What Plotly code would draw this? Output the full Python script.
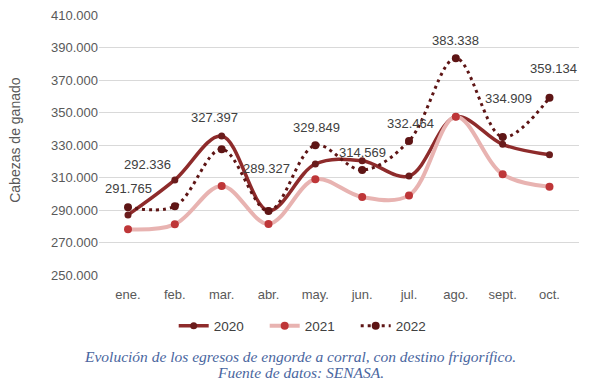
import plotly.graph_objects as go

months = ["ene.", "feb.", "mar.", "abr.", "may.", "jun.", "jul.", "ago.", "sept.", "oct."]
v2020 = [287000, 308500, 335500, 289600, 318300, 320300, 310900, 347400, 330400, 324000]
v2021 = [278100, 281200, 304800, 281400, 308900, 298000, 299000, 347400, 312000, 304300]
v2022 = [291765, 292336, 327397, 289327, 329849, 314569, 332464, 383338, 334909, 359134]

# label offsets (pixels) for the 2022 data labels
label_dx = [0, -27, -7, -2, 1, 0, 1, 0, 6, 4]
label_dy = [19, 42, 32, 43, 18, 18, 18, 18, 39, 29]

fig = go.Figure()
fig.add_trace(go.Scatter(
    x=months, y=v2020, name="2020", mode="lines+markers",
    line=dict(color="#8E2B2B", width=3.5, shape="spline", smoothing=1),
    marker=dict(color="#6A1C1C", size=7),
))
fig.add_trace(go.Scatter(
    x=months, y=v2021, name="2021", mode="lines+markers",
    line=dict(color="#E8B3B1", width=4, shape="spline", smoothing=1),
    marker=dict(color="#BE3638", size=8),
))
fig.add_trace(go.Scatter(
    x=months, y=v2022, name="2022", mode="lines+markers",
    line=dict(color="#5E1515", width=3, shape="spline", smoothing=1, dash="3px,4px"),
    marker=dict(color="#5E1515", size=8),
))

def fmt(v):
    return f"{v:,}".replace(",", ".")

for m, v, dx, dy in zip(months, v2022, label_dx, label_dy):
    fig.add_annotation(x=m, y=v, text=fmt(v), showarrow=False,
                       xshift=dx, yshift=dy,
                       font=dict(family="Liberation Sans", size=13, color="#404040"))

fig.add_annotation(xref="paper", yref="paper", x=-0.175, y=0.52, xanchor="center", yanchor="middle",
                   text="Cabezas de ganado", textangle=-90, showarrow=False,
                   font=dict(family="Liberation Sans", size=14, color="#595959"))

fig.add_annotation(xref="paper", yref="paper", x=0.419, y=-0.312, yanchor="middle", xanchor="center",
                   text="<i>Evolución de los egresos de engorde a corral, con destino frigorífico.</i>",
                   showarrow=False,
                   font=dict(family="Liberation Serif", size=15.5, color="#4A66A0"))
fig.add_annotation(xref="paper", yref="paper", x=0.419, y=-0.374, yanchor="middle", xanchor="center",
                   text="<i>Fuente de datos: SENASA.</i>",
                   showarrow=False,
                   font=dict(family="Liberation Serif", size=15.5, color="#4A66A0"))

# page body has an 8px default margin, so the figure is sized to fit inside the window
fig.update_layout(
    width=590, height=382,
    margin=dict(l=91, r=19, t=7, b=115, autoexpand=False),
    paper_bgcolor="white", plot_bgcolor="white",
    separators=",.",
    showlegend=True,
    legend=dict(orientation="h", x=0.44, xanchor="center", y=-0.196, yanchor="middle",
                font=dict(family="Liberation Sans", size=13.5, color="#404040"),
                entrywidth=46),
    font=dict(family="Liberation Sans", size=13, color="#595959"),
)
fig.update_xaxes(showgrid=False, showline=False, zeroline=False, ticks="",
                 ticklabelstandoff=10,
                 tickfont=dict(size=13, color="#595959"))
fig.update_yaxes(range=[250000, 410000], tick0=250000, dtick=20000, tickformat=",.0f",
                 showgrid=True, gridcolor="#D9D9D9", gridwidth=1,
                 zeroline=False, showline=False, ticks="",
                 ticklabeloverflow="allow",
                 tickfont=dict(size=13, color="#595959"))

fig.write_html("out.html")
